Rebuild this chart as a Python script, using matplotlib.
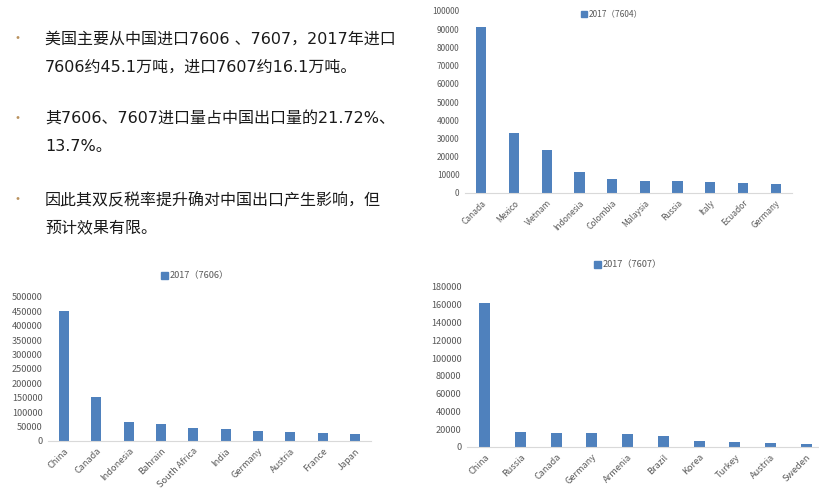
import matplotlib
matplotlib.use('Agg')
import matplotlib.pyplot as plt
from matplotlib.patches import Patch

plt.rcParams['font.family'] = ['Noto Sans CJK SC', 'DejaVu Sans']

# 数据
c7604 = ['Canada', 'Mexico', 'Vietnam', 'Indonesia', 'Colombia', 'Malaysia', 'Russia', 'Italy', 'Ecuador', 'Germany']
v7604 = [91400, 32700, 23800, 11700, 7900, 6800, 6800, 6000, 5700, 4750]

c7606 = ['China', 'Canada', 'Indonesia', 'Bahrain', 'South Africa', 'India', 'Germany', 'Austria', 'France', 'Japan']
v7606 = [452000, 153500, 65100, 58000, 46500, 40700, 36000, 30200, 27900, 24400]

c7607 = ['China', 'Russia', 'Canada', 'Germany', 'Armenia', 'Brazil', 'Korea', 'Turkey', 'Austria', 'Sweden']
v7607 = [162000, 16500, 16100, 15400, 15000, 12000, 6400, 5600, 4900, 3400]

bullets = [
    ['美国主要从中国进口7606 、7607，2017年进口', '7606约45.1万吨，进口7607约16.1万吨。'],
    ['其7606、7607进口量占中国出口量的21.72%、', '13.7%。'],
    ['因此其双反税率提升确对中国出口产生影响，但', '预计效果有限。'],
]

BAR = '#4f81bd'
TICK = '#595959'

fig = plt.figure(figsize=(8.19, 5.01), dpi=100)
W, H = 819, 501


def draw_bar(rect, cats, vals, ymax, step, label, fs, legend_xy):
    x0, y0, x1, y1 = rect
    ax = fig.add_axes([x0 / W, 1 - y1 / H, (x1 - x0) / W, (y1 - y0) / H])
    ax.bar(range(len(cats)), vals, width=0.31, color=BAR)
    ax.set_xlim(-0.5, len(cats) - 0.5)
    ax.set_ylim(0, ymax)
    ax.set_yticks(range(0, ymax + 1, step))
    ax.set_xticks(range(len(cats)))
    ax.set_xticklabels(cats, rotation=45, ha='right', rotation_mode='anchor')
    ax.tick_params(length=0, labelsize=fs, colors=TICK, pad=4)
    for s in ['top', 'right', 'left']:
        ax.spines[s].set_visible(False)
    ax.spines['bottom'].set_color('#d9d9d9')
    ax.patch.set_alpha(0)
    handle = Patch(color=BAR)
    fig.legend([handle], [label], loc='center', bbox_to_anchor=(legend_xy[0] / W, 1 - legend_xy[1] / H),
               frameon=False, fontsize=fs, handlelength=0.7, handleheight=0.7, handletextpad=0.2,
               labelcolor=TICK)
    return ax


draw_bar((465, 11, 792, 193), c7604, v7604, 100000, 10000, '2017（7604）', 6.0, (612, 14))
draw_bar((48, 297, 371, 441), c7606, v7606, 500000, 50000, '2017（7606）', 6.6, (195, 276))
draw_bar((467, 287, 824, 447), c7607, v7607, 180000, 20000, '2017（7607）', 6.6, (628, 265))

# 左上角文字
txt_font = ['DejaVu Sans', 'Noto Sans CJK SC']
ys = [39, 119, 200]
for (l1, l2), y in zip(bullets, ys):
    fig.text(17 / W, 1 - y / H, '•', color='#b9915e', fontsize=10, va='center', ha='center')
    fig.text(45 / W, 1 - y / H, l1, color='#1a1a1a', fontsize=11.5, va='center', family=txt_font)
    fig.text(45 / W, 1 - (y + 28) / H, l2, color='#1a1a1a', fontsize=11.5, va='center', family=txt_font)

fig.savefig('out.png', dpi=100)
